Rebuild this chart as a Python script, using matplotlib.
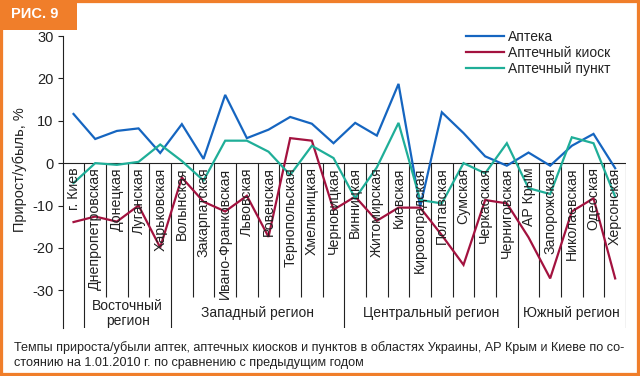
import matplotlib
matplotlib.use("Agg")
import matplotlib.pyplot as plt
from matplotlib.patches import Rectangle

categories = ["г. Киев", "Днепропетровская", "Донецкая", "Луганская", "Харьковская",
              "Волынская", "Закарпатская", "Ивано-Франковская", "Львовская", "Ровенская",
              "Тернопольская", "Хмельницкая", "Черновицкая",
              "Винницкая", "Житомирская", "Киевская", "Кировоградская", "Полтавская",
              "Сумская", "Черкасская", "Черниговская",
              "АР Крым", "Запорожская", "Николаевская", "Одесская", "Херсонская"]

apteka = [11.6, 5.7, 7.6, 8.2, 2.4, 9.2, 1.0, 16.1, 5.9, 7.9, 10.9, 9.3, 4.7,
          9.5, 6.5, 18.7, -10.3, 12.0, 7.1, 1.6, -0.6, 2.5, -0.6, 4.1, 6.9, -1.2]
kiosk = [-13.9, -12.6, -13.8, -10.0, -19.9, -3.4, -9.1, -11.4, -7.7, -17.4, 5.9, 5.3, -11.0,
         -7.9, -13.6, -10.5, -10.5, -17.0, -24.0, -8.7, -9.5, -17.5, -27.2, -11.4, -8.3, -27.2]
punkt = [-4.7, 0.0, -0.4, 0.3, 4.4, 0.5, -4.1, 5.3, 5.3, 2.7, -2.8, 4.1, 1.2,
         -8.3, -1.0, 9.5, -8.7, -9.5, 0.0, -2.4, 4.7, -5.9, -7.3, 6.1, 4.7, -7.9]

series_names = ["Аптека", "Аптечный киоск", "Аптечный пункт"]
series_colors = ["#1565C0", "#A3123F", "#1FAE98"]

regions = ["Восточный\nрегион", "Западный регион", "Центральный регион", "Южный регион"]
region_bounds = [(1, 5), (5, 13), (13, 21), (21, 26)]

yticks = [-30, -20, -10, 0, 10, 20, 30]
ylabel = "Прирост/убыль, %"
title_tab = "РИС. 9"
caption = ("Темпы прироста/убыли аптек, аптечных киосков и пунктов в областях Украины, АР Крым и Киеве по со-\n"
           "стоянию на 1.01.2010 г. по сравнению с предыдущим годом")

ORANGE = "#F07E2A"
TXT = "#222222"
regular = ["Liberation Sans", "DejaVu Sans"]

plt.rcParams["font.family"] = regular

fig = plt.figure(figsize=(6.4, 3.76), dpi=100)
W, H = 640, 376
ax = fig.add_axes([62.7 / W, 1 - 328 / H, (626 - 62.7) / W, (328 - 36) / H])

ymin, ymax = -38.9, 30
ax.set_xlim(0, len(categories))
ax.set_ylim(ymin, ymax)

xs = [i + 0.5 for i in range(len(categories))]
for vals, name, col in zip([apteka, kiosk, punkt], series_names, series_colors):
    ax.plot(xs, vals, color=col, lw=1.6, label=name, zorder=3, solid_joinstyle="miter")

# zero line and separators
ax.hlines(0, 0, len(categories), color=TXT, lw=0.8, zorder=2)
region_edges = sorted({b for pair in region_bounds for b in pair})
for b in range(1, len(categories) + 1):
    if b in region_edges:
        ax.vlines(b, ymin, 0, color=TXT, lw=0.8, zorder=2)
    else:
        ax.vlines(b, -31.6, 0, color=TXT, lw=0.8, zorder=2)

# category labels
for x, c in zip(xs, categories):
    ax.text(x, -1.0, c, rotation=90, ha="center", va="top", fontsize=10.2,
            color=TXT, zorder=4)

# region labels
for (a, b), r in zip(region_bounds, regions):
    ax.text((a + b) / 2, -35.4, r, ha="center", va="center", fontsize=10,
            color=TXT, linespacing=1.1)

for s in ["top", "right", "bottom"]:
    ax.spines[s].set_visible(False)
ax.spines["left"].set_color(TXT)
ax.spines["left"].set_linewidth(0.8)
ax.spines["left"].set_bounds(ymin, ymax)
ax.set_xticks([])
ax.set_yticks(yticks)
ax.set_yticklabels([str(t) for t in yticks], fontsize=10.5, color=TXT)
ax.tick_params(axis="y", direction="out", length=3.5, width=0.8, color=TXT, pad=3)
ax.patch.set_alpha(0)

fig.text(20 / W, 1 - 170 / H, ylabel, rotation=90, ha="center", va="center",
         fontsize=10.5, color=TXT)

leg = ax.legend(loc="upper left", bbox_to_anchor=(466 / W, 1 - 30 / H),
                bbox_transform=fig.transFigure, frameon=False, fontsize=10,
                handlelength=2.7, handletextpad=0.35, labelspacing=0.13,
                borderpad=0, borderaxespad=0)
for t in leg.get_texts():
    t.set_color(TXT)

fig.text(14 / W, 1 - 355 / H, caption, ha="left", va="center", fontsize=9.1,
         color=TXT, linespacing=1.35)

# frame and title tab
fig.patches.append(Rectangle((0, 0), 1, 1, transform=fig.transFigure, fill=False,
                             edgecolor=ORANGE, linewidth=4.5, zorder=10))
fig.patches.append(Rectangle((0, 1 - 30 / H), 77 / W, 30 / H, transform=fig.transFigure,
                             facecolor=ORANGE, edgecolor="none", zorder=10))
fig.text(35 / W, 1 - 14 / H, title_tab, ha="center", va="center", fontsize=10.5,
         color="white", fontweight="bold", zorder=11)

fig.savefig("out.png", dpi=100)
